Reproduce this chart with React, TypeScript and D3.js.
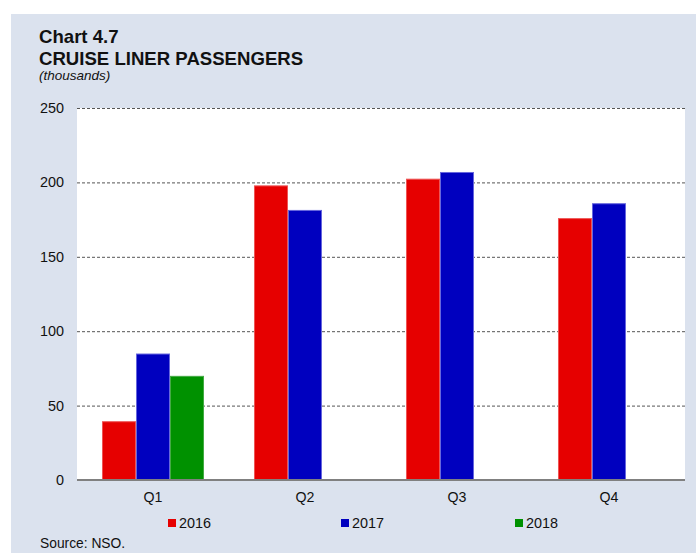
import React from "react";
import * as d3 from "d3";

const categories = ["Q1", "Q2", "Q3", "Q4"];
const years = ["2016", "2017", "2018"];
const values2016 = [39.5, 198, 202.5, 176];
const values2017 = [85, 181.5, 207, 186];
const values2018 = [70, null, null, null];
const yTicks = [0, 50, 100, 150, 200, 250];
const colors = ["#e60000", "#0000bf", "#009100"];

const W = 696;
const H = 553;
const plot = { left: 77, right: 685, top: 108, bottom: 480 };

export default function App() {
  const x0 = d3.scaleBand<string>().domain(categories).range([plot.left, plot.right]).padding(0);
  const x1 = d3
    .scaleBand<string>()
    .domain(years)
    .range([0, x0.bandwidth()])
    .paddingOuter(0.735)
    .paddingInner(0);
  const y = d3.scaleLinear().domain([0, 250]).range([plot.bottom, plot.top]);
  const series = [values2016, values2017, values2018];
  const font = "'Liberation Sans', Arial, sans-serif";
  const legendX = [168, 341, 515];
  const lighter = ["#ee5555", "#6666dd", "#44aa44"];

  return (
    <svg
      width={W}
      height={H}
      style={{ position: "absolute", left: 0, top: 0, fontFamily: font }}
    >
      <rect x={0} y={0} width={W} height={H} fill="#ffffff" />
      <rect x={11} y={14} width={W - 11} height={H - 14} fill="#dbe2ee" />
      <rect
        x={plot.left}
        y={plot.top}
        width={plot.right - plot.left}
        height={plot.bottom - plot.top}
        fill="#ffffff"
      />
      <text x={39} y={43} fontSize={18.6} fontWeight="bold" fill="#111">
        Chart 4.7
      </text>
      <text x={39} y={65} fontSize={18.6} fontWeight="bold" fill="#111">
        CRUISE LINER PASSENGERS
      </text>
      <text x={39} y={80} fontSize={13.5} fontStyle="italic" fill="#111">
        (thousands)
      </text>
      {yTicks.map((t) => (
        <g key={t}>
          {t > 0 && (
            <line
              x1={plot.left}
              x2={plot.right}
              y1={y(t) + 0.5}
              y2={y(t) + 0.5}
              stroke="#555"
              strokeWidth={1}
              strokeDasharray="3,2"
            />
          )}
          <text
            x={64}
            y={y(t)}
            dy="0.35em"
            textAnchor="end"
            fontSize={14.4}
            fill="#111"
          >
            {t}
          </text>
        </g>
      ))}
      {categories.map((c, i) => (
        <g key={c}>
          {series.map((s, j) => {
            const v = s[i];
            if (v == null) return null;
            const bx = (x0(c) as number) + (x1(years[j]) as number);
            return (
              <rect
                key={j}
                x={bx + 0.5}
                y={y(v) + 0.5}
                width={x1.bandwidth() - 1}
                height={y(0) - y(v) - 0.5}
                fill={colors[j]}
                stroke={lighter[j]}
                strokeWidth={1}
              />
            );
          })}
          <text
            x={(x0(c) as number) + x0.bandwidth() / 2}
            y={502}
            textAnchor="middle"
            fontSize={14.2}
            fill="#111"
          >
            {c}
          </text>
        </g>
      ))}
      <line
        x1={plot.left}
        x2={plot.right}
        y1={plot.bottom}
        y2={plot.bottom}
        stroke="#808080"
        strokeWidth={2}
      />
      {years.map((yr, j) => (
        <g key={yr}>
          <rect x={legendX[j]} y={519} width={8} height={8} fill={colors[j]} />
          <text x={legendX[j] + 11} y={528} fontSize={14.4} fill="#111">
            {yr}
          </text>
        </g>
      ))}
      <text x={40} y={548} fontSize={13.8} fill="#111">
        Source: NSO.
      </text>
    </svg>
  );
}
